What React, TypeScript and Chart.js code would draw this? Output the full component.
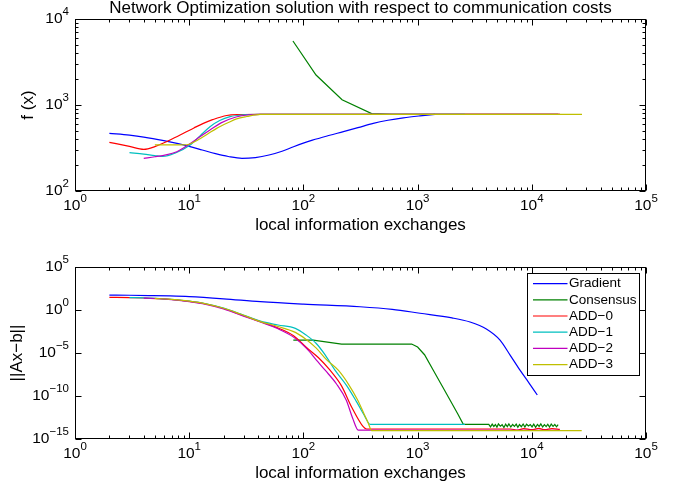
import React, { useEffect, useRef } from 'react';
import { Chart, registerables } from 'chart.js';

Chart.register(...registerables);

const FONT = "'Liberation Sans', Arial, Helvetica, sans-serif";

type Pt = [number, number];

// ---- upper panel: objective value f(x) against exchanges ----
const GRADIENT_F: Pt[] = [
  [2, 469], [3, 446], [4, 424], [6, 385], [8, 355], [10, 330], [13, 300], [17, 272],
  [22, 252], [29, 240], [38, 245], [50, 262], [65, 290], [82, 327], [120, 390],
  [170, 445], [224, 490], [300, 545], [409, 612], [550, 665], [750, 710], [1050, 748], [1420, 778],
];
const CONSENSUS_F: Pt[] = [[81, 5550], [129, 2230], [218, 1150], [396, 795], [600, 780], [17000, 780]];
const ADD0_F: Pt[] = [
  [2, 368], [3, 330], [4, 305], [5, 328], [6.8, 392], [9, 472], [11, 541], [13.3, 612],
  [16, 675], [21.3, 755], [28, 774], [42, 780], [17600, 780],
];
const ADD1_F: Pt[] = [
  [3, 279], [4, 268], [5, 258], [5.9, 252], [7.5, 275], [10.2, 343], [12.5, 440], [15.2, 560],
  [18.5, 660], [22.8, 731], [30, 770], [42, 780], [2600, 780],
];
const ADD2_F: Pt[] = [
  [4, 240], [5, 250], [6, 260], [7.8, 286], [10, 350], [12.5, 430], [15.2, 512], [19, 620],
  [25.7, 725], [33, 770], [42, 780], [17600, 780],
];
const ADD3_F: Pt[] = [
  [5, 343], [7, 343], [9.5, 345], [12, 395], [14.5, 460], [17.4, 535], [22, 625], [26, 690],
  [31.9, 735], [42, 780], [27500, 780],
];

// ---- lower panel: constraint residual ||Ax-b|| against exchanges ----
const GRADIENT_R: Pt[] = [
  [2, 55], [3, 52], [4.5, 48], [6.8, 43], [10, 36], [20, 20], [42, 9.2], [100, 4.8], [313, 2.4],
  [600, 1.2], [1050, 0.42], [2000, 0.12], [2880, 0.04], [4000, 6.3e-3], [5270, 3.2e-4],
  [6500, 5e-6], [7880, 1e-7], [9500, 3e-9], [11170, 1.3e-10],
];
const CONSENSUS_R: Pt[] = [
  [81.6, 3.2e-4], [122, 3.2e-4], [216, 1.1e-4], [400, 1.1e-4], [887, 1.1e-4], [1000, 5e-5],
  [1150, 6.3e-6], [1372, 1e-7], [1650, 1.3e-9], [1922, 3.4e-11], [2250, 8e-13], [2513, 5e-14],
  [3000, 5e-14], [4200, 5e-14], [4350, 2.6e-14], [4500, 5.4e-14], [4650, 2.9e-14], [4800, 4.8e-14],
  [4950, 2.4e-14], [5100, 5.6e-14], [5300, 3.1e-14], [5500, 4.6e-14], [5700, 2.2e-14],
  [5900, 5.2e-14], [6100, 2.8e-14], [6300, 5.7e-14], [6550, 2.5e-14], [6800, 4.9e-14],
  [7050, 3e-14], [7300, 5.3e-14], [7550, 2.3e-14], [7800, 4.7e-14], [8100, 2.7e-14],
  [8400, 5.5e-14], [8700, 2.4e-14], [9000, 5.1e-14], [9350, 3.2e-14], [9700, 4.8e-14],
  [10050, 2.6e-14], [10400, 5.4e-14], [10800, 2.3e-14], [11200, 5e-14], [11600, 2.9e-14],
  [12000, 5.6e-14], [12450, 2.5e-14], [12900, 4.6e-14], [13350, 2.8e-14], [13800, 5.2e-14],
  [14300, 2.4e-14], [14800, 5.5e-14], [15350, 3e-14], [15900, 4.9e-14], [16450, 2.6e-14],
  [17000, 4.8e-14],
];
const ADD0_R: Pt[] = [
  [2, 30], [3, 28], [4, 25], [5.5, 21], [7, 16.6], [10, 10], [14, 5], [20, 1.5], [28, 0.3],
  [42, 0.044], [60, 8e-3], [82, 1e-3], [107, 4e-5], [135, 3e-6], [171, 1e-7], [215, 1.6e-9],
  [265, 5e-12], [334, 2.7e-14], [358, 1.45e-14], [6500, 1.45e-14], [7500, 1.1e-14],
  [8500, 1.6e-14], [10000, 1.2e-14], [11500, 1.7e-14], [13000, 1.2e-14], [15000, 1.6e-14],
  [17600, 1.3e-14],
];
const ADD1_R: Pt[] = [
  [3, 28], [4, 25.5], [5.5, 21.5], [7, 17], [10, 10.5], [14, 5.3], [20, 1.7], [28, 0.36],
  [42, 0.05], [60, 0.018], [85, 7.4e-3], [105, 1.3e-3], [129, 1.35e-4], [155, 6e-6],
  [189, 1e-7], [240, 1.5e-9], [290, 2.5e-11], [346, 4e-13], [383, 5e-14], [2600, 5e-14],
];
const ADD2_R: Pt[] = [
  [4, 24.5], [5.5, 20.5], [7, 16], [10, 9.5], [14, 4.6], [20, 1.35], [28, 0.27], [42, 0.04],
  [60, 6.5e-3], [82, 7e-4], [107, 3.2e-5], [130, 1.5e-6], [155, 1e-7], [195, 2.5e-9],
  [237, 3.4e-11], [270, 2.6e-13], [302, 1.1e-14], [17600, 1e-14],
];
const ADD3_R: Pt[] = [
  [5, 22], [7, 17], [10, 10.5], [14, 5.2], [20, 1.6], [28, 0.34], [42, 0.045], [60, 0.012],
  [85, 2.5e-3], [105, 4e-4], [129, 4e-5], [160, 1.6e-6], [202, 1e-7], [250, 2e-9], [300, 3e-11],
  [340, 8e-13], [370, 6.8e-14], [396, 9.3e-15], [27350, 9.3e-15],
];

const SERIES_NAMES = ['Gradient', 'Consensus', 'ADD\u22120', 'ADD\u22121', 'ADD\u22122', 'ADD\u22123'];
const SERIES_COLORS = ['#0000ff', '#008000', '#ff0000', '#00bfbf', '#bf00bf', '#bfbf00'];
const SMOOTH = [true, false, true, true, true, true];

// axis ticks
const X_MAJOR_TICKS = [1, 10, 100, 1000, 10000, 100000];
const X_TICK_EXPONENTS = ['0', '1', '2', '3', '4', '5'];
const F_MAJOR_TICKS = [100, 1000, 10000];
const F_TICK_EXPONENTS = ['2', '3', '4'];
const R_MAJOR_TICKS = [1e5, 1, 1e-5, 1e-10, 1e-15];
const R_TICK_EXPONENTS = ['5', '0', '\u22125', '\u221210', '\u221215'];

const TITLE = 'Network Optimization solution with respect to communication costs';
const X_TITLE = 'local information exchanges';

const withMinors = (majors: number[]) => {
  const out: { v: number; major: boolean }[] = [];
  majors.forEach((m, i) => {
    out.push({ v: m, major: true });
    if (i < majors.length - 1) for (let k = 2; k <= 9; k++) out.push({ v: m * k, major: false });
  });
  return out;
};

interface FrameSpec {
  xTicks: { v: number; major: boolean }[];
  xExps: string[];
  yTicks: { v: number; major: boolean }[];
  yMajors: number[];
  yExps: string[];
}

const BASE_PX = 15.5;
const EXP_PX = 11.5;

function drawPower(ctx: CanvasRenderingContext2D, x: number, y: number, exp: string, align: 'center' | 'right') {
  ctx.font = `${BASE_PX}px ${FONT}`;
  const wb = ctx.measureText('10').width;
  ctx.font = `${EXP_PX}px ${FONT}`;
  const we = ctx.measureText(exp).width;
  const left = align === 'center' ? x - (wb + we) / 2 : x - wb - we;
  ctx.textAlign = 'left';
  ctx.textBaseline = 'middle';
  ctx.font = `${BASE_PX}px ${FONT}`;
  ctx.fillText('10', left, y);
  ctx.font = `${EXP_PX}px ${FONT}`;
  ctx.fillText(exp, left + wb, y - 7);
}

function makeFrame(spec: FrameSpec) {
  return {
    id: 'axesFrame',
    afterDatasetsDraw(chart: any) {
      const { ctx, chartArea: a } = chart;
      const xs = chart.scales.x;
      const ys = chart.scales.y;
      const L = Math.round(a.left) + 0.5;
      const R = Math.round(a.right) - 0.5;
      const T = Math.round(a.top) + 0.5;
      const B = Math.round(a.bottom) - 0.5;
      ctx.save();
      ctx.strokeStyle = '#000';
      ctx.lineWidth = 1;
      ctx.strokeRect(L, T, R - L, B - T);
      ctx.beginPath();
      for (const t of spec.xTicks) {
        const p = Math.round(xs.getPixelForValue(t.v)) + 0.5;
        const len = t.major ? 6 : 3;
        ctx.moveTo(p, B); ctx.lineTo(p, B - len);
        ctx.moveTo(p, T); ctx.lineTo(p, T + len);
      }
      for (const t of spec.yTicks) {
        const p = Math.round(ys.getPixelForValue(t.v)) + 0.5;
        const len = t.major ? 6 : 3;
        ctx.moveTo(L, p); ctx.lineTo(L + len, p);
        ctx.moveTo(R, p); ctx.lineTo(R - len, p);
      }
      ctx.stroke();
      ctx.fillStyle = '#000';
      X_MAJOR_TICKS.forEach((v, i) => {
        drawPower(ctx, xs.getPixelForValue(v), a.bottom + 15, spec.xExps[i], 'center');
      });
      spec.yMajors.forEach((v, i) => {
        drawPower(ctx, a.left - 6, ys.getPixelForValue(v), spec.yExps[i], 'right');
      });
      ctx.restore();
    },
  };
}

const legendBox = {
  id: 'legendBox',
  afterDraw(chart: any) {
    const { ctx, chartArea: a } = chart;
    const ds = chart.data.datasets;
    ctx.save();
    ctx.font = `13.5px ${FONT}`;
    const tw = Math.max(...ds.map((d: any) => ctx.measureText(d.label).width));
    const w = 42 + tw + 2;
    const right = Math.round(a.right) - 7;
    const left = Math.round(right - w);
    const top = Math.round(a.top) + 6;
    const rowH = 16.2;
    const h = Math.round(10.6 * 2 + rowH * (ds.length - 1));
    ctx.fillStyle = '#fff';
    ctx.fillRect(left, top, right - left, h);
    ctx.strokeStyle = '#000';
    ctx.lineWidth = 1;
    ctx.strokeRect(left + 0.5, top + 0.5, right - left, h);
    ds.forEach((d: any, i: number) => {
      const cy = top + 10.6 + i * rowH;
      ctx.strokeStyle = d.borderColor;
      ctx.lineWidth = 1.2;
      ctx.beginPath();
      ctx.moveTo(left + 6, cy);
      ctx.lineTo(left + 40.5, cy);
      ctx.stroke();
      ctx.fillStyle = '#000';
      ctx.textAlign = 'left';
      ctx.textBaseline = 'middle';
      ctx.fillText(d.label, left + 42, cy);
    });
    ctx.restore();
  },
};

// later series are painted over earlier ones (lower "order" is drawn last)
const toDatasets = (series: Pt[][]) =>
  series.map((pts, i) => ({
    label: SERIES_NAMES[i],
    data: pts.map(([x, y]) => ({ x, y })),
    order: series.length - 1 - i,
    borderColor: SERIES_COLORS[i],
    backgroundColor: SERIES_COLORS[i],
    borderWidth: 1.2,
    pointRadius: 0,
    fill: false,
    tension: SMOOTH[i] ? 0.4 : 0,
    cubicInterpolationMode: SMOOTH[i] ? 'monotone' : 'default',
  }));

const axisTitleFont = { family: FONT, size: 17, weight: 'normal' as const, lineHeight: 1.2 };

function baseOptions(yMin: number, yMax: number, yTitle: string, yTitlePad: number, padTop: number) {
  return {
    animation: false as const,
    responsive: false,
    devicePixelRatio: 1,
    events: [] as any[],
    layout: { padding: { left: 0, right: 43, top: padTop, bottom: 0 } },
    plugins: { legend: { display: false }, tooltip: { enabled: false } } as any,
    scales: {
      x: {
        type: 'logarithmic' as const,
        min: 1,
        max: 1e5,
        grid: { display: false },
        border: { display: false },
        ticks: { display: false },
        title: { display: true, text: X_TITLE, color: '#000', font: axisTitleFont, padding: { top: 0, bottom: 9.5 } },
        afterFit: (s: any) => { s.height = 54; },
      },
      y: {
        type: 'logarithmic' as const,
        min: yMin,
        max: yMax,
        grid: { display: false },
        border: { display: false },
        ticks: { display: false },
        title: { display: true, text: yTitle, color: '#000', font: axisTitleFont, padding: { top: yTitlePad, bottom: 0 } },
        afterFit: (s: any) => { s.width = 75; },
      },
    },
  };
}

export default function App() {
  const topRef = useRef<HTMLCanvasElement>(null);
  const botRef = useRef<HTMLCanvasElement>(null);

  useEffect(() => {
    const topOpts: any = baseOptions(100, 1e4, 'f (x)', 17.8, 0);
    topOpts.plugins.title = {
      display: true,
      text: TITLE,
      fullSize: false,
      color: '#000',
      font: { family: FONT, size: 17, weight: 'normal', lineHeight: 1 },
      padding: { top: 0, bottom: 2 },
    };
    const top = new Chart(topRef.current as HTMLCanvasElement, {
      type: 'line',
      data: { datasets: toDatasets([GRADIENT_F, CONSENSUS_F, ADD0_F, ADD1_F, ADD2_F, ADD3_F]) as any },
      options: topOpts,
      plugins: [
        makeFrame({
          xTicks: withMinors(X_MAJOR_TICKS),
          xExps: X_TICK_EXPONENTS,
          yTicks: withMinors(F_MAJOR_TICKS),
          yMajors: F_MAJOR_TICKS,
          yExps: F_TICK_EXPONENTS,
        }),
      ],
    });

    const botOpts: any = baseOptions(1e-15, 1e5, '||Ax\u2212b||', 6.8, 22);
    const bottom = new Chart(botRef.current as HTMLCanvasElement, {
      type: 'line',
      data: { datasets: toDatasets([GRADIENT_R, CONSENSUS_R, ADD0_R, ADD1_R, ADD2_R, ADD3_R]) as any },
      options: botOpts,
      plugins: [
        makeFrame({
          xTicks: withMinors(X_MAJOR_TICKS),
          xExps: X_TICK_EXPONENTS,
          yTicks: R_MAJOR_TICKS.map((v) => ({ v, major: true })),
          yMajors: R_MAJOR_TICKS,
          yExps: R_TICK_EXPONENTS,
        }),
        legendBox,
      ],
    });

    return () => {
      top.destroy();
      bottom.destroy();
    };
  }, []);

  return (
    <div style={{ position: 'fixed', left: 0, top: 0, width: 689, height: 493, background: '#fff' }}>
      <canvas
        ref={topRef}
        width={689}
        height={245}
        style={{ position: 'absolute', left: 0, top: 0, width: 689, height: 245 }}
      />
      <canvas
        ref={botRef}
        width={689}
        height={248}
        style={{ position: 'absolute', left: 0, top: 245, width: 689, height: 248 }}
      />
    </div>
  );
}
